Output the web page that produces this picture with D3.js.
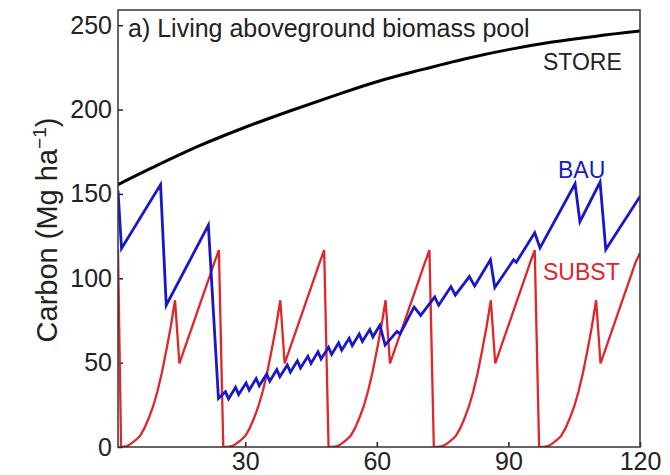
<!DOCTYPE html>
<html>
<head>
<meta charset="utf-8">
<script src="https://cdn.jsdelivr.net/npm/d3@7"></script>
<style>
  body { margin: 0; background: #fff; }
  svg text { font-family: "Liberation Sans", Arial, sans-serif; }
</style>
</head>
<body>
<svg id="chart" width="670" height="475"></svg>
<script>
// values (year -> Mg C / ha)
const storeYears = [1, 10, 20, 30, 40, 50, 60, 70, 80, 90, 100, 110, 120];
const storeValues = [155.5, 167, 179, 189.5, 199, 208, 216.5, 223.5, 230, 235.5, 240, 243.5, 246.5];

const bauYears = [1, 1.8, 10.7, 12.0, 21.6, 23.9,
    25.5, 26.2, 27.8, 28.5, 30.2, 30.9, 32.5, 33.2, 34.9, 35.6, 37.2, 37.9,
    39.6, 40.3, 41.9, 42.6, 44.3, 45.0, 46.6, 47.3, 49.0, 49.7, 51.3, 52.0,
    53.7, 54.4, 56.0, 56.7, 58.4, 59.1, 60.7, 61.9,
    64.6, 65.3, 68.5, 70.0, 73.2, 74.1, 76.9, 77.9, 81.1, 82.3, 85.9, 86.9,
    91.2, 91.8, 96.0, 97.2, 105.2, 106.3, 110.9, 112.2, 120];
const bauValues = [152, 117.7, 155.5, 84, 131.5, 28.8,
    32.8, 28.5, 35.4, 31.1, 38.0, 33.7, 40.6, 36.3, 43.3, 39.0, 45.9, 41.6,
    48.6, 44.3, 51.1, 46.8, 53.8, 49.5, 56.4, 52.1, 59.1, 54.8, 61.7, 57.4,
    64.4, 60.1, 66.9, 62.6, 69.6, 65.3, 72.2, 60.4,
    68.5, 67, 83, 78, 89, 84, 95, 90, 101, 95.5, 111, 94.5,
    111, 109.5, 127, 118, 156, 133.5, 157, 117, 148.5];

const substYears = [1, 1.7].concat(d3.range(2, 121));
const substValues = [117, 0,
    0, 0.5, 2, 4, 6.5, 11, 17, 24, 33, 44, 57, 71, 87, 49.5, 57, 64.5, 72, 79.5, 87, 94.5, 102, 109.5, 116.7,
    0, 0, 0.5, 2, 4, 6.5, 11, 17, 24, 33, 44, 57, 71, 87, 49.5, 57, 64.5, 72, 79.5, 87, 94.5, 102, 109.5, 116.7,
    0, 0, 0.5, 2, 4, 6.5, 11, 17, 24, 33, 44, 57, 71, 87, 49.5, 57, 64.5, 72, 79.5, 87, 94.5, 102, 109.5, 116.7,
    0, 0, 0.5, 2, 4, 6.5, 11, 17, 24, 33, 44, 57, 71, 87, 49.5, 57, 64.5, 72, 79.5, 87, 94.5, 102, 109.5, 116.7,
    0, 0, 0.5, 2, 4, 6.5, 11, 17, 24, 33, 44, 57, 71, 87, 49.5, 57, 64.5, 72, 79.5, 87, 94.5, 102, 109.5, 115];

const xTicks = [30, 60, 90, 120];
const yTicks = [0, 50, 100, 150, 200, 250];

const width = 670, height = 475;
const margin = {top: 10, right: 30, bottom: 28, left: 118};
const w = width - margin.left - margin.right;
const h = height - margin.top - margin.bottom;

const xScale = d3.scaleLinear().domain([1, 120]).range([0, w]);
const yScale = d3.scaleLinear().domain([0, 259]).range([h, 0]);

const svg = d3.select('#chart');
const g = svg.append('g')
    .attr('transform', `translate(${margin.left},${margin.top})`);

g.append('clipPath').attr('id', 'plot-clip')
    .append('rect').attr('width', w).attr('height', h);

const xAxis = d3.axisBottom(xScale).tickValues(xTicks)
    .tickSizeInner(-5).tickSizeOuter(0).tickPadding(5);
const yAxis = d3.axisLeft(yScale).tickValues(yTicks)
    .tickSizeInner(-5).tickSizeOuter(0).tickPadding(6);

g.append('g')
    .attr('class', 'x-axis')
    .attr('transform', `translate(0,${h})`)
    .call(xAxis);
g.append('g')
    .attr('class', 'y-axis')
    .call(yAxis);

svg.selectAll('.x-axis, .y-axis').select('.domain').remove();
svg.selectAll('.x-axis text, .y-axis text')
    .attr('font-size', 25)
    .attr('fill', '#222');
svg.selectAll('.tick line').attr('stroke', '#222').attr('stroke-width', 1.5);

const lineGen = d3.line()
    .x(d => xScale(d[0]))
    .y(d => yScale(d[1]));

const series = [
    {name: 'SUBST', years: substYears, values: substValues, color: '#e0262a', width: 2.3},
    {name: 'BAU', years: bauYears, values: bauValues, color: '#1818c8', width: 2.8},
];

series.forEach(s => {
    g.append('path')
        .datum(s.years.map((yr, i) => [yr, s.values[i]]))
        .attr('clip-path', 'url(#plot-clip)')
        .attr('fill', 'none')
        .attr('stroke', s.color)
        .attr('stroke-width', s.width)
        .attr('stroke-linejoin', 'miter')
        .attr('d', lineGen);
});

g.append('path')
    .datum(storeYears.map((yr, i) => [yr, storeValues[i]]))
    .attr('clip-path', 'url(#plot-clip)')
    .attr('fill', 'none')
    .attr('stroke', '#000')
    .attr('stroke-width', 3)
    .attr('d', lineGen.curve(d3.curveMonotoneX));

// frame
g.append('rect')
    .attr('width', w).attr('height', h)
    .attr('fill', 'none')
    .attr('stroke', '#333')
    .attr('stroke-width', 1.5);

// labels
g.append('text')
    .attr('x', 10).attr('y', 27)
    .attr('font-size', 25).attr('fill', '#222')
    .text('a) Living aboveground biomass pool');

g.append('text')
    .attr('x', 425).attr('y', 60)
    .attr('font-size', 23).attr('fill', '#222')
    .text('STORE');
g.append('text')
    .attr('x', 440).attr('y', 168)
    .attr('font-size', 23).attr('fill', '#1818c8')
    .text('BAU');
g.append('text')
    .attr('x', 425).attr('y', 270)
    .attr('font-size', 23).attr('fill', '#e0262a')
    .text('SUBST');

const yLabel = svg.append('text')
    .attr('transform', 'translate(57,230) rotate(-90)')
    .attr('text-anchor', 'middle')
    .attr('font-size', 29)
    .attr('fill', '#222');
yLabel.append('tspan').text('Carbon (Mg ha');
yLabel.append('tspan').attr('dy', -11).attr('font-size', 19).text('\u22121');
yLabel.append('tspan').attr('dy', 11).text(')');
</script>
</body>
</html>
